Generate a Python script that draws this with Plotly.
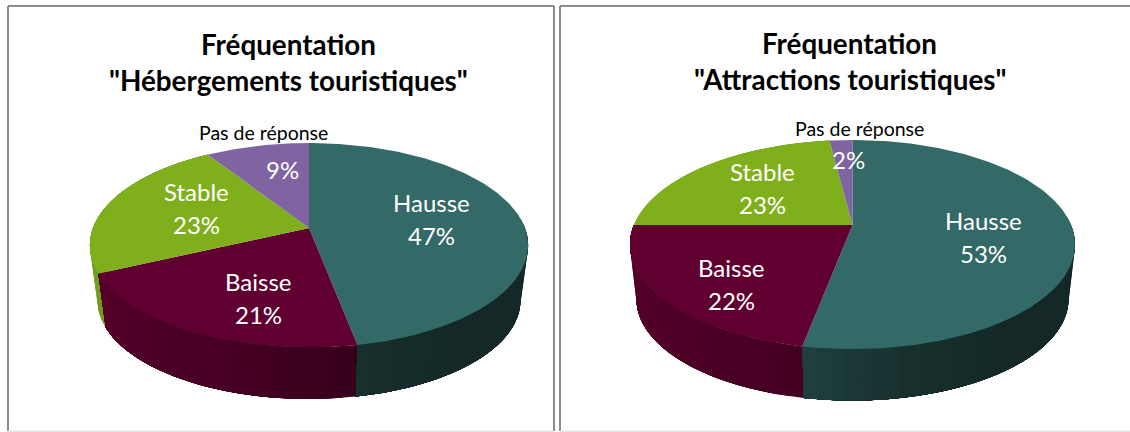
import numpy as np
import plotly.graph_objects as go

# --- data -------------------------------------------------------------
categories = ["Hausse", "Baisse", "Stable", "Pas de réponse"]
hebergements = [47, 21, 23, 9]
attractions = [53, 22, 23, 2]
titles_left = ["Fréquentation", '"Hébergements touristiques"']
titles_right = ["Fréquentation", '"Attractions touristiques"']

# --- style / layout ---------------------------------------------------
COLORS = [(0x33, 0x69, 0x66), (0x60, 0x00, 0x30), (0x7F, 0xB0, 0x1C), (0x80, 0x64, 0xA2)]
FONT = "Lato"
W, H = 1130, 432
GEOM_L = dict(cx=309.0, cy=228.0, b=216.0, a=99.3, k=0.169, s=0.965, dy=55.7)
GEOM_R = dict(cx=852.5, cy=225.0, b=218.6, a=100.9, k=0.187, s=0.971, dy=55.0)
LABELS_L = [(431, 202.5, 235.5), (258, 281.5, 314.5), (196, 191.5, 224.5), (282, None, 169.5)]
LABELS_R = [(983, 220.5, 253.5), (731, 267.5, 300.5), (762, 171.5, 204.5), (848, None, 159.5)]
OUTSIDE_L = (263, 132)
OUTSIDE_R = (859, 128)
TITLE_L = (288.5, 44.5, 80.5)
TITLE_R = (849.5, 43.5, 79.5)
SHADE_U = [-1, -0.22, 0.22, 0.6, 1]
SHADE_HAUSSE = [0.9, 0.62, 0.45, 0.38, 0.38]
SHADE_OTHER = [0.9, 0.7, 0.54, 0.45, 0.4]


def project(t, g, wall=False):
    """Perspective view of a point at clock angle t on the unit disc."""
    u, v = np.sin(t), -np.cos(t)
    d = 1 - g["k"] * v
    x, y = g["b"] * u / d, g["a"] * v / d
    if wall:
        return g["cx"] + g["s"] * x, g["cy"] + g["s"] * y + g["dy"]
    return g["cx"] + x, g["cy"] + y


def shade(u, i):
    return np.interp(u, SHADE_U, SHADE_HAUSSE if i == 0 else SHADE_OTHER)


def rgb(c, f=1.0):
    return "rgb(%d,%d,%d)" % tuple(round(x * f) for x in c)


def poly(fig, xs, ys, color):
    fig.add_trace(go.Scatter(x=xs, y=ys, mode="lines", fill="toself", fillcolor=color,
                             line=dict(width=0), hoverinfo="skip", showlegend=False))


def draw_pie(fig, values, g):
    edges = 2 * np.pi * np.cumsum([0] + values) / sum(values)
    # walls: rear categories first; each band runs on to the slice end so no seams show
    for i in reversed(range(len(COLORS))):
        c = COLORS[i]
        a0, a1 = edges[i], edges[i + 1]
        n = max(1, int((a1 - a0) / np.radians(3)))
        ts = np.linspace(a0, a1, n + 1)
        for t0, t1 in zip(ts[:-1], ts[1:]):
            tm = (t0 + t1) / 2
            if -np.cos(tm) < -0.1:
                continue
            seg = np.linspace(t0, a1, 40)
            xt, yt = project(seg, g)
            xb, yb = project(seg[::-1], g, wall=True)
            poly(fig, list(xt) + list(xb) + [xt[0]], list(yt) + list(yb) + [yt[0]],
                 rgb(c, shade(np.sin(tm), i)))
    # top faces
    for i, c in enumerate(COLORS):
        ts = np.linspace(edges[i], edges[i + 1], max(3, int((edges[i + 1] - edges[i]) / np.radians(1))))
        x, y = project(ts, g)
        poly(fig, [g["cx"]] + list(x) + [g["cx"]], [g["cy"]] + list(y) + [g["cy"]], rgb(c))


def text(fig, x, y, s, size, color, bold=False):
    fig.add_annotation(x=x, y=y, text=f"<b>{s}</b>" if bold else s, showarrow=False,
                       xanchor="center", yanchor="middle",
                       font=dict(family=FONT, size=size, color=color))


fig = go.Figure()
draw_pie(fig, hebergements, GEOM_L)
draw_pie(fig, attractions, GEOM_R)

for vals, labs, out, ttl, tp in [(hebergements, LABELS_L, OUTSIDE_L, titles_left, TITLE_L),
                                 (attractions, LABELS_R, OUTSIDE_R, titles_right, TITLE_R)]:
    for name, v, (x, y1, y2) in zip(categories, vals, labs):
        if y1 is not None:
            text(fig, x, y1, name, 24, "white")
        text(fig, x, y2, f"{v}%", 24, "white")
    text(fig, out[0], out[1], categories[3], 19.5, "black")
    text(fig, tp[0], tp[1], ttl[0], 27.8, "black", True)
    text(fig, tp[0], tp[2], ttl[1], 27.8, "black", True)

GRAY = "#8c8c8c"
LIGHT = "#e4e4e4"
segs = [(8, 6, 554, 6, GRAY), (8, 6, 8, 431, GRAY), (554, 6, 554, 431, GRAY),
        (560, 6, 1130, 6, GRAY), (560, 6, 560, 431, GRAY),
        (8, 431.5, 554, 431.5, LIGHT), (560, 431.5, 1130, 431.5, LIGHT)]
for x0, y0, x1, y1, col in segs:
    fig.add_shape(type="line", x0=x0, y0=y0, x1=x1, y1=y1, line=dict(color=col, width=2))

fig.update_layout(width=W, height=H, margin=dict(l=0, r=0, t=0, b=0),
                  paper_bgcolor="white", plot_bgcolor="white", showlegend=False,
                  xaxis=dict(range=[0, W], visible=False, fixedrange=True),
                  yaxis=dict(range=[H, 0], visible=False, fixedrange=True))
fig.write_html("out.html", config=dict(displayModeBar=False),
               post_script="document.body.style.margin='0';document.body.style.overflow='hidden';")
